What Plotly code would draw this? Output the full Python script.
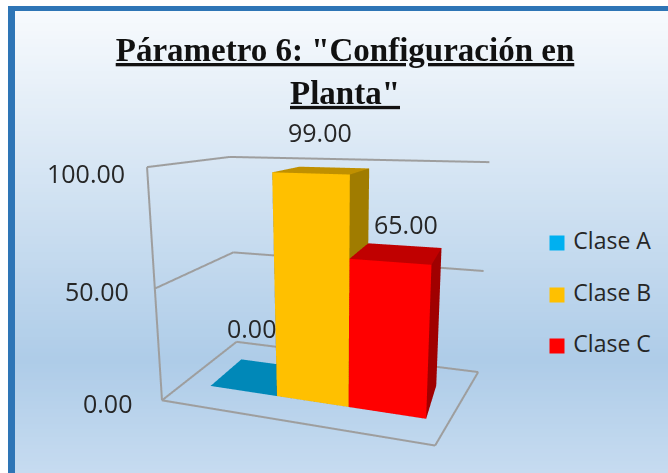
import plotly.graph_objects as go

categories = ["Clase A", "Clase B", "Clase C"]
values = [0.0, 99.0, 65.0]
colors = ["#00B0F0", "#FFC000", "#FF0000"]
top_colors = ["#0088B8", "#C09000", "#C00000"]
side_colors = ["#006F9A", "#A07C00", "#A00000"]
value_labels = ["0.00", "99.00", "65.00"]
tick_values = [0, 50, 100]
tick_labels = ["0.00", "50.00", "100.00"]
title = '<b><u>Párametro 6: "Configuración en<br>Planta"</u></b>'

# frame geometry of the chart's walls and floor
WALL_LEFT, WALL_RIGHT, FLOOR_FRONT_RIGHT = -0.3412, 3.535, 3.195
WALL_FRONT, WALL_BACK = -0.0373, 1.0
WALL_LIFT = 1.697
BAR_Y0, BAR_Y1 = 0.2819, 0.7483
W, H = 668, 473

# pixel nudges of the text labels
tick_shift_x, tick_shift_y = [-28, -24, -20], [-3, -2, -6]
value_shift_x, value_shift_y = [-6, -3, 9], [48, 38, 29]

fig = go.Figure()

# page background: white, blue frame, three-stop gradient
stops = [(0.0, (247, 250, 253)), (0.76, (174, 204, 232)), (1.0, (198, 219, 240))]


def grad(t):
    for (t0, c0), (t1, c1) in zip(stops, stops[1:]):
        if t <= t1:
            u = (t - t0) / (t1 - t0)
            return tuple(round(a + (b - a) * u) for a, b in zip(c0, c1))
    return stops[-1][1]


def page_rect(x0, y0, x1, y1, color):
    fig.add_shape(type="rect", xref="paper", yref="paper", x0=x0 / W, x1=x1 / W,
                  y0=1 - y1 / H, y1=1 - y0 / H, fillcolor=color, line_width=0, layer="below")


page_rect(0, 0, W, H, "#FFFFFF")
page_rect(8, 6, W, H, "#2E75B6")
steps = 115
for s in range(steps):
    y0 = 11 + (H - 11) * s / steps
    c = grad(s / (steps - 1))
    page_rect(15, y0, W, H, f"rgb{c}")


def box(x0, x1, y0, y1, z, front, top, side, name):
    xs = [x0, x1, x1, x0, x0, x1, x1, x0]
    ys = [y0, y0, y1, y1, y0, y0, y1, y1]
    zs = [0, 0, 0, 0, z, z, z, z]
    i = [0, 0, 4, 4, 0, 0, 1, 1, 2, 2, 3, 3]
    j = [1, 2, 5, 6, 1, 5, 2, 6, 3, 7, 0, 4]
    k = [2, 3, 6, 7, 5, 4, 6, 5, 7, 6, 4, 7]
    face = [side, side, top, top, front, front, side, side, side, side, side, side]
    return go.Mesh3d(x=xs, y=ys, z=zs, i=i, j=j, k=k, facecolor=face, flatshading=True,
                     lighting=dict(ambient=1, diffuse=0, specular=0, fresnel=0),
                     hoverinfo="skip", showlegend=False, name=name)


for n, cat in enumerate(categories):
    fig.add_trace(box(n, n + 1, BAR_Y0, BAR_Y1, values[n], colors[n], top_colors[n], side_colors[n], cat))


def frame_line(xs, ys, zs):
    fig.add_trace(go.Scatter3d(x=xs, y=ys, z=zs, mode="lines",
                               line=dict(color="#9E9E9E", width=4),
                               hoverinfo="skip", showlegend=False))


# gridlines on the two walls, the front vertical and the floor outline, one trace per segment
for v in tick_values:
    z = v + WALL_LIFT
    frame_line([WALL_LEFT, WALL_LEFT], [WALL_FRONT, WALL_BACK], [z, z])
    frame_line([WALL_LEFT, WALL_RIGHT], [WALL_BACK, WALL_BACK], [z, z])
low_z, top_z = tick_values[0] + WALL_LIFT, tick_values[-1] + WALL_LIFT
frame_line([WALL_LEFT, WALL_LEFT], [WALL_FRONT, WALL_FRONT], [low_z, top_z])
frame_line([WALL_LEFT, FLOOR_FRONT_RIGHT], [WALL_FRONT, WALL_FRONT], [low_z, low_z])
frame_line([FLOOR_FRONT_RIGHT, WALL_RIGHT], [WALL_FRONT, WALL_BACK], [low_z, low_z])

text_font = dict(family="Open Sans", size=25, color="#262626")
annotations = []
for v, lab, sx, sy in zip(tick_values, tick_labels, tick_shift_x, tick_shift_y):
    annotations.append(dict(x=WALL_LEFT, y=WALL_FRONT, z=v + WALL_LIFT, text=lab, showarrow=False,
                            xanchor="right", xshift=sx, yshift=sy, font=text_font))
for n, (v, lab, sx, sy) in enumerate(zip(values, value_labels, value_shift_x, value_shift_y)):
    annotations.append(dict(x=n + 0.5, y=(BAR_Y0 + BAR_Y1) / 2, z=v, text=lab, showarrow=False,
                            xshift=sx, yshift=sy, font=text_font))

# legend drawn on hidden pixel-scaled axes so its row spacing can follow the reference
fig.add_trace(go.Scatter(x=[557, 557, 557], y=[243, 295, 346], mode="markers+text",
                         text=[" " + c for c in categories], textposition="middle right",
                         textfont=dict(family="Open Sans", size=23, color="#262626"),
                         marker=dict(symbol="square", size=15, color=colors),
                         hoverinfo="skip", showlegend=False))

fig.update_layout(
    width=W, height=H, margin=dict(l=0, r=0, t=0, b=0), showlegend=False,
    paper_bgcolor="rgba(0,0,0,0)", plot_bgcolor="rgba(0,0,0,0)",
    title=dict(text=title, x=345 / W, xanchor="center", y=1 - 61 / H, yanchor="top",
               font=dict(family="Liberation Serif", size=33, color="#111111")),
    xaxis=dict(visible=False, range=[0, W], domain=[0, 1]),
    yaxis=dict(visible=False, range=[H, 0], domain=[0, 1]),
    scene=dict(
        domain=dict(x=[0, 1], y=[0, 1]),
        bgcolor="rgba(0,0,0,0)",
        xaxis=dict(visible=False, range=[-0.4466, 3.6]),
        yaxis=dict(visible=False, range=[-0.05, 1.05]),
        zaxis=dict(visible=False, range=[0, 102]),
        aspectmode="manual", aspectratio=dict(x=1.2862, y=0.7129, z=0.9809),
        camera=dict(eye=dict(x=0.7238, y=-2.2191, z=0.6569),
                    center=dict(x=-0.0623, y=0.2865, z=0.1291),
                    projection=dict(type="perspective")),
        annotations=annotations,
    ),
)
fig.write_html("out.html", config=dict(displayModeBar=False),
               post_script="document.body.style.margin='0';document.body.style.overflow='hidden';")
